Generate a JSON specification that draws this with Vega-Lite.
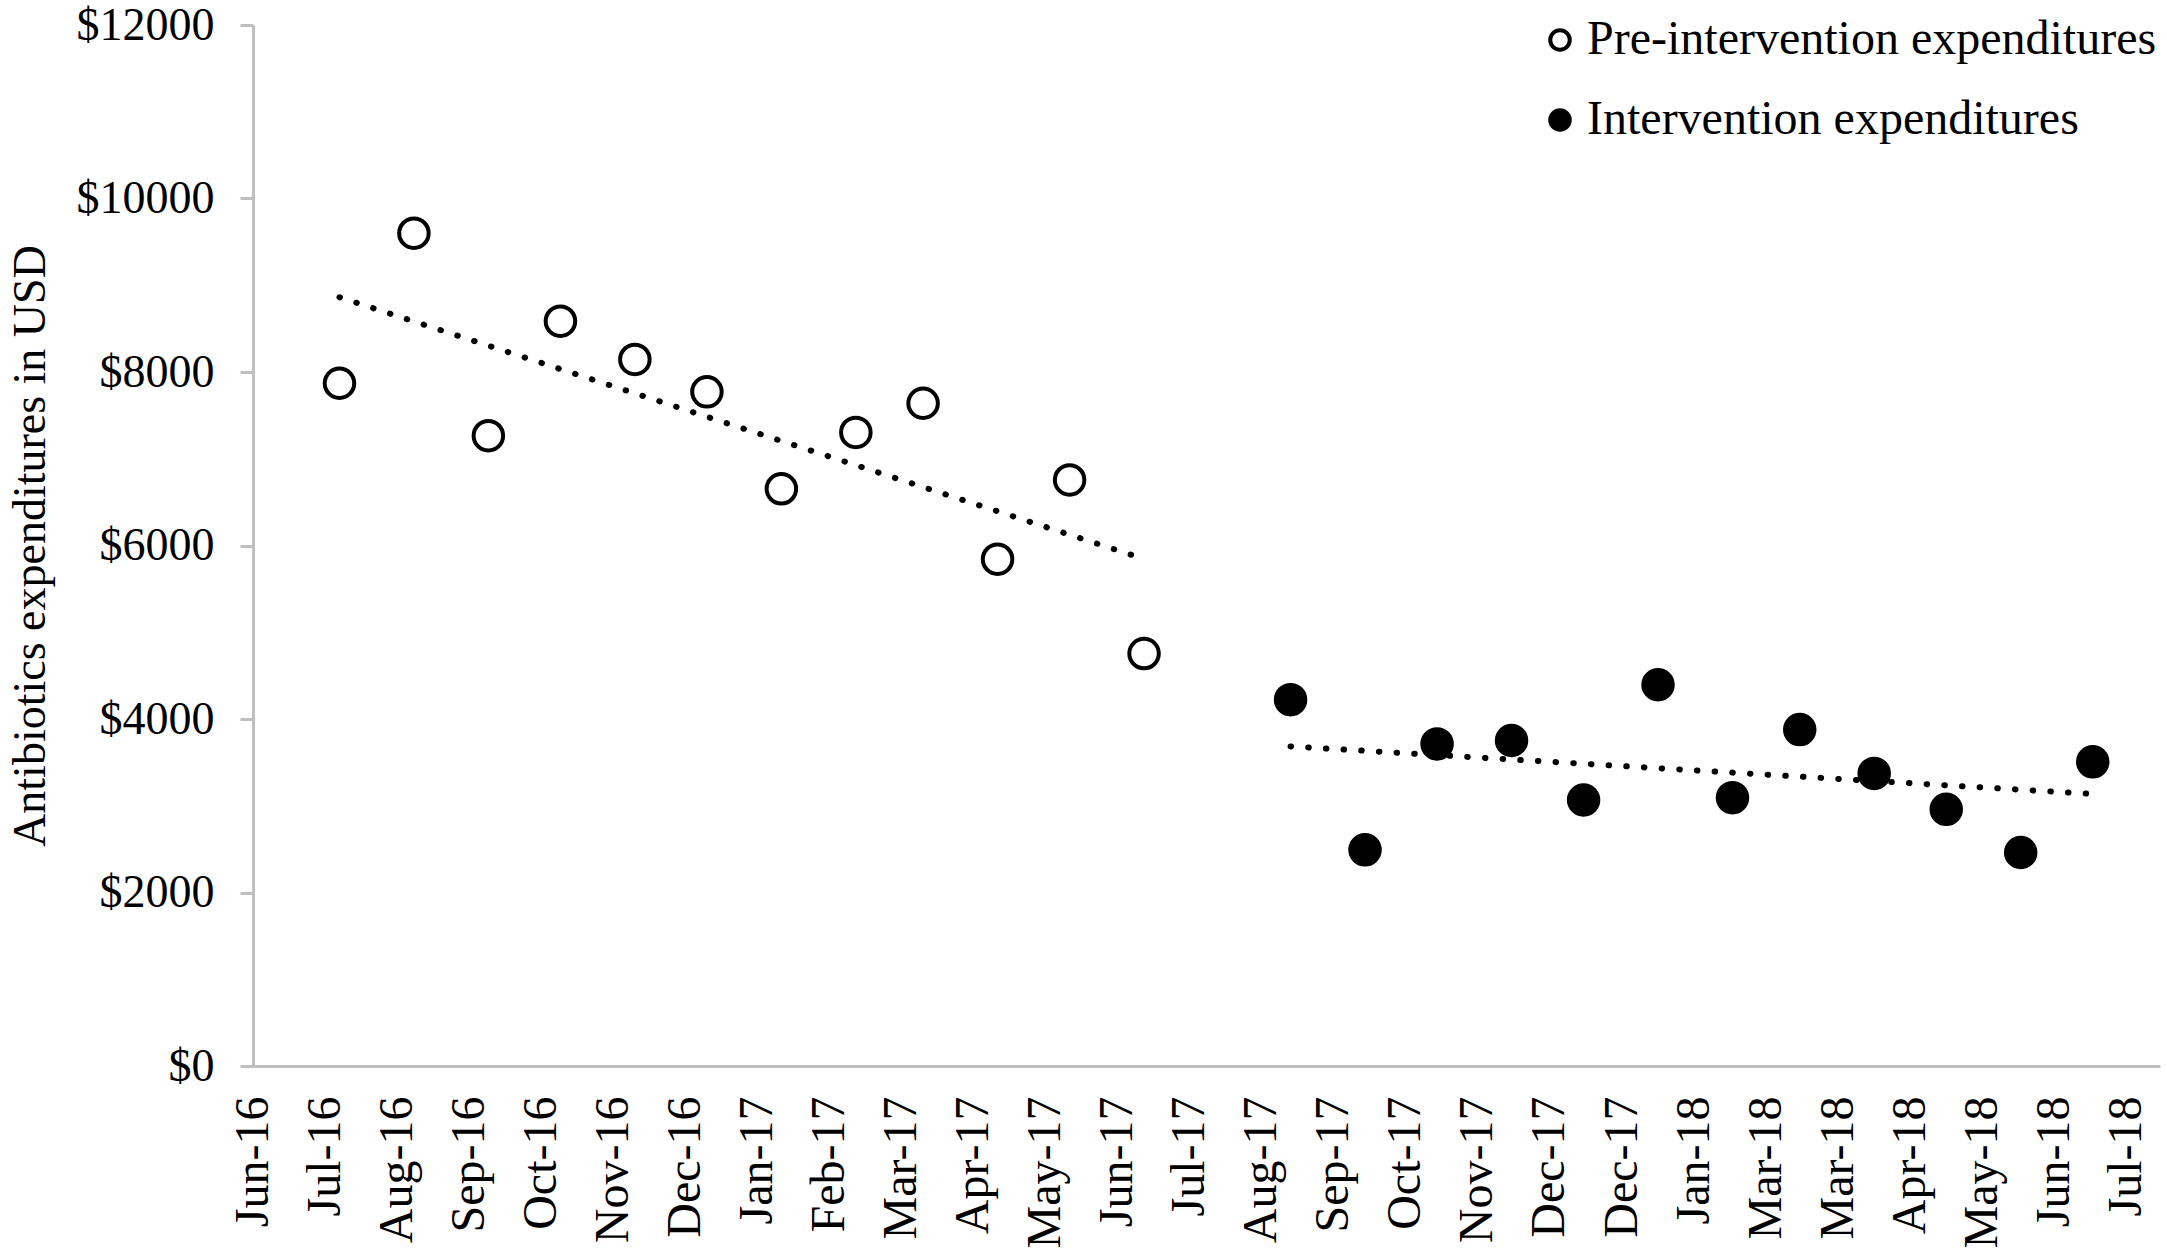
{
  "$schema": "https://vega.github.io/schema/vega-lite/v6.json",
  "width": 1907,
  "height": 1041,
  "autosize": {"type": "none"},
  "padding": {"left": 253, "top": 25, "right": 7, "bottom": 187},
  "background": "white",
  "config": {
    "font": "Liberation Serif",
    "view": {"stroke": null}
  },
  "data": {
    "values": [
      {"date": "2016-07-15", "value": 7870, "series": "Pre-intervention expenditures"},
      {"date": "2016-08-15", "value": 9600, "series": "Pre-intervention expenditures"},
      {"date": "2016-09-15", "value": 7266, "series": "Pre-intervention expenditures"},
      {"date": "2016-10-15", "value": 8586, "series": "Pre-intervention expenditures"},
      {"date": "2016-11-15", "value": 8145, "series": "Pre-intervention expenditures"},
      {"date": "2016-12-15", "value": 7771, "series": "Pre-intervention expenditures"},
      {"date": "2017-01-15", "value": 6653, "series": "Pre-intervention expenditures"},
      {"date": "2017-02-15", "value": 7304, "series": "Pre-intervention expenditures"},
      {"date": "2017-03-15", "value": 7640, "series": "Pre-intervention expenditures"},
      {"date": "2017-04-15", "value": 5842, "series": "Pre-intervention expenditures"},
      {"date": "2017-05-15", "value": 6756, "series": "Pre-intervention expenditures"},
      {"date": "2017-06-15", "value": 4754, "series": "Pre-intervention expenditures"},
      {"date": "2017-08-15", "value": 4223, "series": "Intervention expenditures"},
      {"date": "2017-09-15", "value": 2492, "series": "Intervention expenditures"},
      {"date": "2017-10-15", "value": 3713, "series": "Intervention expenditures"},
      {"date": "2017-11-15", "value": 3752, "series": "Intervention expenditures"},
      {"date": "2017-12-15", "value": 3066, "series": "Intervention expenditures"},
      {"date": "2018-01-15", "value": 4395, "series": "Intervention expenditures"},
      {"date": "2018-02-15", "value": 3093, "series": "Intervention expenditures"},
      {"date": "2018-03-15", "value": 3878, "series": "Intervention expenditures"},
      {"date": "2018-04-15", "value": 3373, "series": "Intervention expenditures"},
      {"date": "2018-05-15", "value": 2959, "series": "Intervention expenditures"},
      {"date": "2018-06-15", "value": 2461, "series": "Intervention expenditures"},
      {"date": "2018-07-15", "value": 3506, "series": "Intervention expenditures"}
    ]
  },
  "layer": [
    {
      "transform": [{"regression": "value", "on": "date", "groupby": ["series"]}],
      "mark": {"type": "line", "color": "black", "strokeWidth": 6, "strokeDash": [0.5, 17.2], "strokeCap": "round"},
      "encoding": {
        "x": {"field": "date", "type": "temporal"},
        "y": {"field": "value", "type": "quantitative"},
        "detail": {"field": "series", "type": "nominal"}
      }
    },
    {
      "mark": {"type": "point", "shape": "circle", "filled": true, "size": 870, "stroke": "black", "strokeWidth": 4, "opacity": 1},
      "encoding": {
        "x": {
          "field": "date",
          "type": "temporal",
          "scale": {
            "type": "utc",
            "domain": [
              {"year": 2016, "month": 6, "date": 9, "utc": true},
              {"year": 2018, "month": 8, "date": 12, "utc": true}
            ]
          },
          "axis": {
            "title": null,
            "values": [
              {"year": 2016, "month": 6, "date": 9, "utc": true},
              {"year": 2016, "month": 7, "date": 9, "utc": true},
              {"year": 2016, "month": 8, "date": 8, "utc": true},
              {"year": 2016, "month": 9, "date": 7, "utc": true},
              {"year": 2016, "month": 10, "date": 7, "utc": true},
              {"year": 2016, "month": 11, "date": 6, "utc": true},
              {"year": 2016, "month": 12, "date": 6, "utc": true},
              {"year": 2017, "month": 1, "date": 5, "utc": true},
              {"year": 2017, "month": 2, "date": 4, "utc": true},
              {"year": 2017, "month": 3, "date": 6, "utc": true},
              {"year": 2017, "month": 4, "date": 5, "utc": true},
              {"year": 2017, "month": 5, "date": 5, "utc": true},
              {"year": 2017, "month": 6, "date": 4, "utc": true},
              {"year": 2017, "month": 7, "date": 4, "utc": true},
              {"year": 2017, "month": 8, "date": 3, "utc": true},
              {"year": 2017, "month": 9, "date": 2, "utc": true},
              {"year": 2017, "month": 10, "date": 2, "utc": true},
              {"year": 2017, "month": 11, "date": 1, "utc": true},
              {"year": 2017, "month": 12, "date": 1, "utc": true},
              {"year": 2017, "month": 12, "date": 31, "utc": true},
              {"year": 2018, "month": 1, "date": 30, "utc": true},
              {"year": 2018, "month": 3, "date": 1, "utc": true},
              {"year": 2018, "month": 3, "date": 31, "utc": true},
              {"year": 2018, "month": 4, "date": 30, "utc": true},
              {"year": 2018, "month": 5, "date": 30, "utc": true},
              {"year": 2018, "month": 6, "date": 29, "utc": true},
              {"year": 2018, "month": 7, "date": 29, "utc": true}
            ],
            "format": "%b-%y",
            "labelAngle": -90,
            "labelFontSize": 48,
            "labelColor": "black",
            "labelPadding": 30,
            "labelOverlap": false,
            "labelFlush": false,
            "labelBound": false,
            "ticks": false,
            "tickSize": 0,
            "grid": false,
            "domainColor": "#bfbfbf",
            "domainWidth": 3
          }
        },
        "y": {
          "field": "value",
          "type": "quantitative",
          "scale": {"domain": [0, 12000], "nice": false},
          "axis": {
            "values": [0, 2000, 4000, 6000, 8000, 10000, 12000],
            "labelExpr": "'$' + datum.value",
            "labelFontSize": 46,
            "labelColor": "black",
            "labelPadding": 26,
            "tickSize": 13,
            "tickColor": "#bfbfbf",
            "tickWidth": 3,
            "domainColor": "#bfbfbf",
            "domainWidth": 3,
            "grid": false,
            "title": "Antibiotics expenditures in USD",
            "titleFontSize": 46,
            "titleFontWeight": "normal",
            "titleColor": "black",
            "titlePadding": 22
          }
        },
        "fill": {
          "field": "series",
          "type": "nominal",
          "scale": {
            "domain": ["Pre-intervention expenditures", "Intervention expenditures"],
            "range": ["white", "black"]
          },
          "legend": {
            "title": null,
            "orient": "none",
            "legendX": 1283,
            "legendY": -9,
            "padding": 0,
            "labelFontSize": 48,
            "labelColor": "black",
            "labelLimit": 1000,
            "labelOffset": 3,
            "symbolType": "circle",
            "symbolSize": 380,
            "symbolStrokeWidth": 4,
            "symbolStrokeColor": "black",
            "symbolOpacity": 1,
            "rowPadding": 32
          }
        }
      }
    }
  ]
}
